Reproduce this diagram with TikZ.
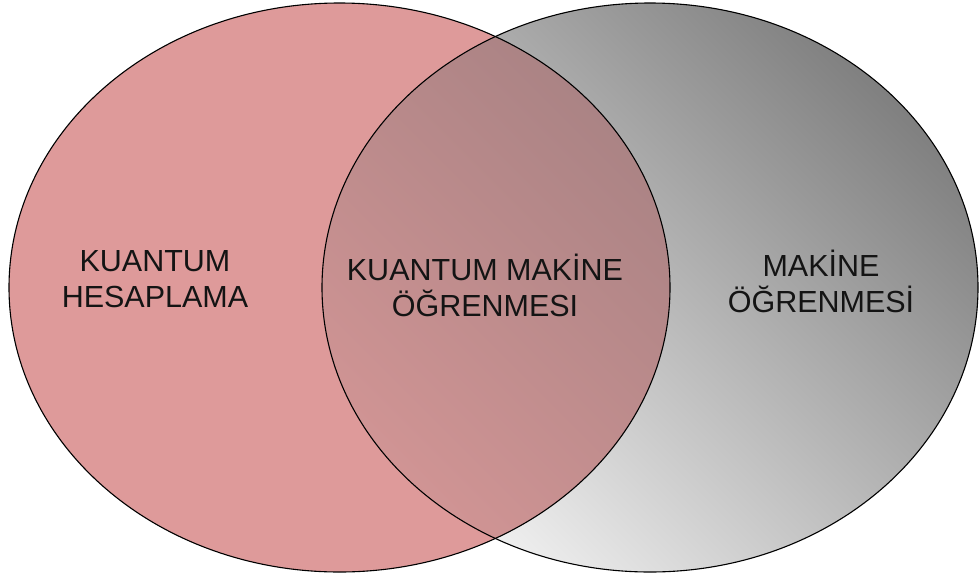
\documentclass[tikz,border=0pt]{standalone}
\usepackage{fontspec}
\setmainfont{Liberation Sans}
\usepackage{tikz}
\usetikzlibrary{shapes,calc}
\definecolor{qpink}{RGB}{222,154,154}
\definecolor{mldark}{RGB}{128,128,128}
\definecolor{mllight}{RGB}{242,242,242}
\definecolor{mixdark}{RGB}{150,122,124}
\definecolor{mixlight}{RGB}{208,148,148}
\definecolor{labelgray}{RGB}{20,20,20}
\tikzstyle{vennlabel} = [align=center, text=labelgray,
    font=\fontsize{30.5}{36}\selectfont, inner sep=0pt]
\tikzstyle{vennline} = [draw=black, line width=1.1pt]

\begin{document}
\begin{tikzpicture}[x=1pt, y=-1pt]
    \useasboundingbox (0,0) rectangle (980,579);
    % the two sets
    \coordinate (qc) at (339.5,287.5);
    \coordinate (ml) at (650,287.5);
    \fill[qpink] (qc) ellipse [x radius=330.5, y radius=284.5];
    \shade[top color=mldark, bottom color=mllight, shading angle=-45]
        (ml) ellipse [x radius=328, y radius=284.5];
    % intersection
    \begin{scope}
        \clip (qc) ellipse [x radius=330.5, y radius=284.5];
        \shade[top color=mixdark, bottom color=mixlight, shading angle=-45]
            (ml) ellipse [x radius=328, y radius=284.5];
    \end{scope}
    \path[vennline] (qc) ellipse [x radius=330.5, y radius=284.5];
    \path[vennline] (ml) ellipse [x radius=328, y radius=284.5];
    % labels
    \node [vennlabel] (quantum) at (155,279) {KUANTUM\\HESAPLAMA};
    \node [vennlabel] (qml) at (485,285) {KUANTUM MAKİNE\\ÖĞRENMESI};
    \node [vennlabel] (mlearn) at (821,281) {MAKİNE\\ÖĞRENMESİ};
\end{tikzpicture}
\end{document}
